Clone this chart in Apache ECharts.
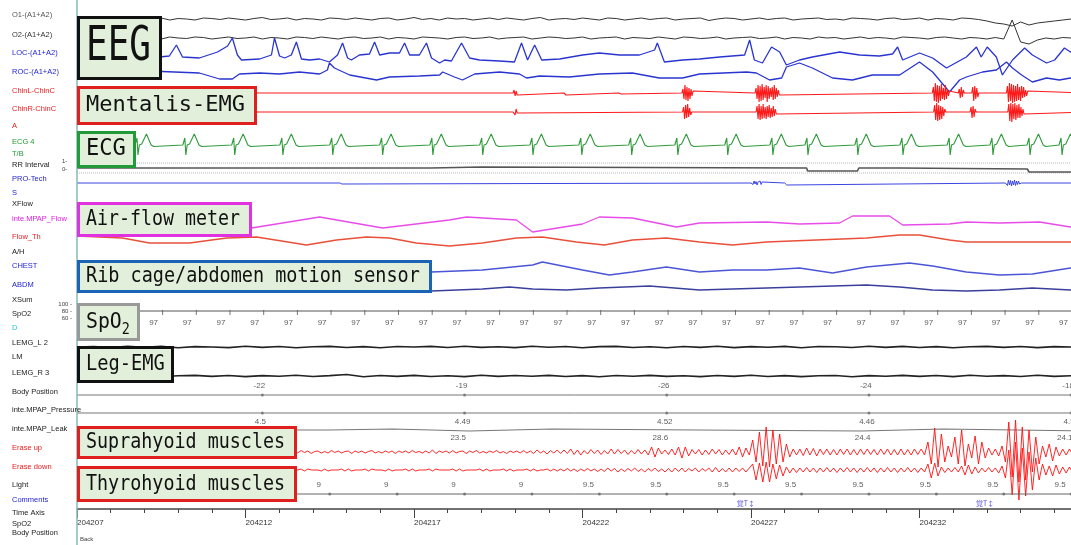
<!DOCTYPE html>
<html><head><meta charset="utf-8">
<script src="https://cdn.jsdelivr.net/npm/echarts@6/dist/echarts.min.js"></script>
<style>html,body{margin:0;padding:0;background:#fff}#c{width:1071px;height:545px}</style>
</head><body><div id="c"></div>
<script>
// ---------------- DATA (time in seconds from 20:42:07, amplitude in trace units, + = up) ----------------
const timeLabels = ['204207','204212','204217','204222','204227','204232'];

const channelNames = ['O1-(A1+A2)','O2-(A1+A2)','LOC-(A1+A2)','ROC-(A1+A2)','ChinL-ChinC','ChinR-ChinC','A','ECG 4','T/B','RR Interval','PRO-Tech','S','XFlow','inte.MPAP_Flow','Flow_Th','A/H','CHEST','ABDM','XSum','SpO2','D','LEMG_L 2','LM','LEMG_R 3','Body Position','inte.MPAP_Pressure','inte.MPAP_Leak','Erase up','Erase down','Light','Comments','Time Axis','SpO2','Body Position'];
const channelColors = ['#555','#333','#2323d8','#2323d8','#e82020','#e82020','#e82020','#1f9a2f','#1f9a2f','#222','#2323d8','#2323d8','#222','#e020e0','#e82020','#222','#2323d8','#2323d8','#222','#222','#20c8e0','#222','#222','#222','#222','#222','#222','#e82020','#e82020','#222','#2323d8','#222','#222','#222'];

const eegO1 = [
0,1,-0.5,0.5,1,-1,0,1.5,-0.5,0,
1,-1,0.5,0,-1,1,0.5,-0.5,1,0,
-1,0.5,1.5,-0.5,0,1,-1,0.5,0,-1,
1,0.5,-0.5,1,0,-1,0.5,1,-1,0,
1.5,-0.5,0.5,-1,1,0,0.5,-1,0,1,
-0.5,1,0,-1,0.5,1.5,-1,0,0.5,-0.5,
1,0,-1,1,0.5,-1,0,1,-0.5,0.5,
1,-1,0,0.5,1,-1.5,0,1,0.5,-1,
0,1,-0.5,0.5,1,-1,0,0.5,1,-0.5,
0,-1,1,0.5,0,-1,0.5,1,-0.5,0,
1,-1,0.5,0,-1,1,0.5,-0.5,-2,-4,
-5,-7,-3,-6,-4,-3,-2,-1,0,0.5];
const eegO2 = [
0.5,-1,0,1,-0.5,0.5,1,-1,0,0.5,
-1,1,0,-0.5,1,0.5,-1,0,1,-0.5,
0,1,-1,0.5,0,-1,1,0.5,-0.5,1,
0,-1,0.5,1,-0.5,0,1,-1,0.5,0,
-1,1,0.5,0,-1,0.5,1,-0.5,0,1,
-1,0,0.5,1,-1,0,1,0.5,-0.5,0,
1,-1,0,0.5,1,-1,0.5,0,-0.5,1,
0,-1,1,0.5,-0.5,0,1,-1,0,0.5,
1,-0.5,0,1,-1,0.5,0,-1,1,0,
0.5,-1,0,1,-0.5,0.5,0,-1,1,0.5,
0,-1,0.5,1,0,-1,0.5,0,-1,0.5,
-1,18,-4,-6,-2,0,-1,0.5,0,0];
const eogLOC = [[0,1],[2.15,0],[2.74,2],[2.95,13],[3.13,1],[3.63,0],[4.17,6],[4.47,12],[4.61,20],[4.76,3],[4.88,-2],[5.42,-1],[5.77,3],[5.86,20],[6.01,2],[6.16,0],[6.36,3],[6.51,16],[6.66,-1],[6.90,-2],[7.20,-1],[7.49,-4],[7.73,3],[7.88,15],[8.03,0],[8.14,-2],[8.38,3],[8.68,4],[8.83,16],[8.98,3],[9.27,5],[9.57,5],[9.72,15],[9.87,3],[10.16,3],[10.37,15],[10.52,0],[10.76,-5],[10.91,-2],[11.11,-3],[11.41,15],[11.65,0],[11.94,-2],[12.54,-3],[12.98,-4],[13.19,15],[13.37,-2],[13.58,13],[13.79,-2],[14.32,-1],[15.0,3],[15.5,5],[16.10,3],[16.69,3],[17.14,8],[17.22,15],[17.43,-4],[17.97,-2],[18.47,-1],[19.07,1],[19.81,3],[19.96,18],[20.10,-2],[20.34,-5],[20.61,11],[20.85,6],[21.05,-7],[21.44,-2],[21.82,1],[22.63,6],[23.22,3],[23.81,2],[24.20,4],[24.35,11],[24.50,-2],[25.0,5],[25.39,0],[25.80,-10],[26.39,1],[26.69,11],[26.83,1],[27.01,11],[27.28,1],[27.46,-17],[27.76,-2],[28.12,10],[28.35,3],[28.77,-5],[29.01,-2],[29.30,10],[29.48,6],[30,6]];
const eogROC = [[0,1],[2.15,2],[3.63,0],[4.23,-6],[4.61,-6],[4.82,-1],[5.42,0],[6.01,-1],[6.60,1],[7.20,-1],[7.43,3],[7.49,10],[7.64,5],[8.09,-2],[8.89,-7],[9.27,-4],[10.16,-3],[10.76,-2],[10.85,1],[11.20,-4],[11.44,-7],[11.80,-1],[12.54,1],[13.13,-1],[13.34,-5],[13.73,-3],[14.61,-4],[15.5,-1],[16.48,0],[17.28,-5],[17.97,-5],[18.47,-1],[19.87,1],[20.16,0],[20.55,-7],[20.91,-5],[21.05,6],[21.44,10],[21.82,5],[22.42,-5],[23.01,-7],[23.60,-2],[24.41,-2],[25.0,11],[25.39,1],[25.89,-19],[26.19,-7],[26.39,-4],[26.87,1],[27.28,3],[27.58,11],[27.76,5],[28.03,-2],[28.35,-9],[28.77,-5],[29.15,-7],[29.48,-5],[30,-5]];
// EMG bursts: [start time, samples every 0.03 s]
const chinL = [[12.94,[0,3,-3,2,-2,0]],[14.45,[0,2,-2,0]],[16.08,[0,2,-1,0]],[17.95,[0,4,-6,8,-7,6,-8,5,-6,4,-3,2,0]],[20.12,[0,5,-6,8,-9,7,-8,9,-7,6,-5,8,-9,7,-6,5,-4,6,-7,8,-6,5,-4,3,-2,0]],[25.38,[0,6,-8,10,-9,8,-10,7,-8,9,-6,5,-7,8,-6,4,-3,2,0]],[26.15,[0,4,-5,6,-4,3,0]],[26.55,[0,6,-8,7,-6,5,-4,0]],[27.58,[0,7,-9,10,-8,9,-10,8,-9,7,-8,9,-7,6,-8,7,-5,6,-4,3,-3,2,0]]];
const chinR = [[12.94,[0,2,-3,3,-1,0]],[17.97,[0,5,-7,7,-6,8,-5,4,-3,0]],[20.15,[0,6,-7,8,-8,6,-7,8,-6,5,-7,6,-5,7,-6,4,-5,6,-4,3,-2,0]],[25.42,[0,7,-8,9,-9,7,-8,6,-7,5,-4,3,0]],[26.5,[0,5,-6,6,-5,3,0]],[27.62,[0,8,-9,9,-10,8,-7,9,-8,7,-6,8,-6,5,-4,3,-2,0]]];
const ecgBeats = [0.34,1.80,3.22,4.67,6.10,7.58,9.06,10.55,12.03,13.52,14.97,16.45,17.82,19.30,20.64,21.68,23.16,24.50,25.90,27.17,28.27,29.22];
const ecgShape = [[-0.08,0],[-0.02,7],[0.01,-10],[0.05,0],[0.12,1],[0.26,11],[0.40,0],[0.48,-1.5]];
const rrInterval = [[0,0],[10.5,0],[10.55,1],[12.0,1],[12.03,0],[21.65,0],[21.68,-3],[23.16,-3],[23.2,0],[24.41,0],[24.45,-1],[28.2,-1],[28.25,-4],[30,-4]];
const proTech = [[7.8,[0,1,-1,0]],[20.0,[0,1,-1.5,2,-1,1.5,-2,1,-1,2,-1.5,1,0]],[21.0,[0,2,-2,0]],[27.55,[0,2,-2.5,3,-2,2.5,-3,2,-2,3,-2.5,2,-1.5,2,-1,1,0]]];
const airFlow = [[0,1],[2.45,3],[3.63,-1],[5.18,-3],[7.20,8],[9.07,-3],[11.05,5],[11.56,8],[13.04,5],[13.52,-7],[15.0,1],[15.50,8],[16.48,7],[17.79,-2],[18.47,2],[20.46,3],[21.44,1],[22.63,2],[23.01,9],[24.11,9],[24.50,0],[25.89,1],[26.39,3],[27.37,2],[28.56,3],[29.48,-2],[30,-2]];
const flowTh = [[0,4],[1.35,2],[2.15,-3],[3.34,-3],[4.44,2],[5.33,3],[6.81,-5],[7.70,0],[8.59,3],[9.27,2],[10.07,-3],[11.05,-6],[12.03,-3],[13.04,2],[13.81,3],[14.82,-2],[15.65,-5],[16.48,0],[17.49,2],[18.47,-2],[19.45,-5],[20.46,-2],[21.94,0],[23.43,2],[24.41,5],[25.0,5],[25.89,0],[26.39,-2],[27.88,-2],[29.48,-2],[30,-2]];
const chest = [[0,0],[3.63,2],[6.60,-2],[10.52,-2],[12.03,0],[13.52,5],[13.81,8],[15.0,0],[15.80,-5],[16.48,-2],[17.49,3],[18.47,-2],[19.45,0],[20.46,0],[21.44,2],[22.42,-3],[23.43,3],[24.70,7],[25.39,4],[26.39,-2],[27.37,-5],[28.35,-4],[29.48,2],[30,2]];
const abdomen = [[0,0],[10.52,-3],[12.03,-1],[12.83,1],[13.52,-1],[14.52,-2],[15.5,0],[16.99,2],[18.47,-2],[19.45,-1],[20.46,0],[21.44,1],[23.43,3],[24.41,1],[25.39,-2],[26.39,-3],[27.37,-2],[28.35,0],[29.48,-2],[30,-2]];
const spo2Times = [2,3,4,5,6,7,8,9,10,11,12,13,14,15,16,17,18,19,20,21,22,23,24,25,26,27,28,29];
const spo2Vals = [97,97,97,97,97,97,97,97,97,97,97,97,97,97,97,97,97,97,97,97,97,97,97,97,97,97,97,97];
const legL = [0,0.5,-0.5,0.8,-0.3,0.6,-0.7,0.4,0,-0.6,0.7,-0.4,0.5,-0.8,0.3,0.6,-0.5,0.4,-0.7,0.5,0,0.6,-0.5,0.8,-0.4,0.3,-0.6,0.7,-0.3,0.5,-0.7,0.4,0.6,-0.5,0.3,-0.8,0.5,-0.4,0.7,-0.6,0.4,-0.3,0.6,-0.7,0.5,0.3,-0.5,0.8,-0.4,0.6,-0.5,0.4,-0.7,0.3,0.6,-0.4,0.5,-0.6,0.4,0,0.3];
const legR = [0.4,-0.5,0.6,-0.3,0.5,-0.7,0.3,0.6,-0.4,0.5,-0.6,0.4,-0.3,0.7,-0.5,0.4,1.5,-0.8,0.5,-0.4,0.6,-0.5,0.3,-0.6,0.7,-0.4,0.5,-0.3,0.6,-0.5,0.4,-0.7,0.5,-0.3,0.6,-0.4,0.3,-0.6,0.5,-0.4,0.7,-0.5,0.4,-0.6,0.3,0.5,-0.7,0.4,-0.3,0.6,-0.4,0.5,-0.6,0.7,-0.3,0.4,-0.5,0.8,-0.4,0.3,0];
const trendTimes = [5.5,11.5,17.5,23.5,29.5];
const bodyPosition = ['-22','-19','-26','-24','-18'];
const mpapPressure = ['4.5','4.49','4.52','4.46','4.5'];
const mpapLeak = ['23.1','23.5','28.6','24.4','24.1'];
const leakLevel = [[0,0],[7.5,0],[7.55,1],[9.36,1],[9.4,-1],[11.65,-1],[11.7,1],[14.1,1],[14.15,0],[18.4,0],[18.45,-1],[23.3,-1],[23.35,1],[25.7,1],[25.75,-1],[30,-1]];
// Erase up / Erase down (supra / thyrohyoid EMG), samples every 0.1 s from 6.45 s
const supraHyoid = [
1,-1,1.5,-0.5,1,-1.5,0.5,1,-1,0.5,
-1,1.5,-0.5,1,-1,0.5,1,-1.5,1,-0.5,
1,-1,0.5,1.5,-1,0.5,-1,1,-0.5,1,
-1.5,1,-0.5,1,-1,1.5,-0.5,0.5,-1,1,
-1,2,-1.5,1,-0.5,1,-1,1.5,-1,0.5,
1,-1.5,1,-0.5,1.5,-1,0.5,-1,1,-0.5,
1.5,-1,0.5,-1.5,1,-0.5,1,-1,1.5,-1,
1,-1.5,2,-1,1,-2,1.5,-1,2,-1.5,
2,-1.5,3,-2.5,2,-3,1.5,-2,2.5,-1.5,
2,-2.5,1.5,-2,3,-2,2.5,-1.5,2,-2.5,
1.5,-2,2.5,-2,2,-3,5,-5,4,-2,
2,-2.5,3,-3,5,-6,5,-4,2.5,-2,
2.5,-3,2,-2.5,3,-2,2.5,-3,2,-2.5,
3,-3,5,-5,4,-3,12,-10,20,-14,
25,-15,22,-12,18,-10,8,-5,3,-3,
3,-3.5,4,-3,3.5,-4,3,-2.5,3,-3,
2.5,-3,3,-2.5,3,-3,2.5,-3,3,-2.5,
3,-2.5,2.5,-3,3,-2.5,3,-3,2.5,-3,
3,-3,2.5,-3,3,-2.5,3,-3,10,-12,
24,-15,18,-10,6,-5,15,-12,22,-14,
8,-6,16,-12,10,-6,4,-3,3,-4,
6,-10,30,-25,32,-30,25,-28,22,-20,
15,-12,6,-5,8,-9,5,-4,3,-3,
3,-3,2,-2,2,-2,2,-2,2,-2];
const thyroHyoid = [
0,0,1,-1,1,0,0,0,-1,1,
-1,0,0,0,1,-1,1,-1,0,0,
0,1,-1,1,0,0,0,-1,1,-1,
0,0,0,1,-1,1,-1,0,0,0,
1,-1,1,0,0,0,0,1,-1,1,
-1,0,0,0,0,1,-1,1,-1,0,
0,0,1,-1,1,-1,0,0,0,1,
-1,1,-1,0,0,1,-1,1,-1,1,
-1,1.5,-1,1,-1.5,1,-1,1.5,-1,1,
-1.5,1,-1.5,2,-1,1.5,-2,1,-1.5,1.5,
-1,2,-1.5,1,-2,1.5,-1,2,-1.5,1,
-2,1.5,-2,2,-1.5,2,-2,1.5,-1,2,
-2,1.5,-1,2,-2,2.5,-2,1.5,-2,2,
-2,2,-1.5,2,-2,2,6,-10,7,-12,
8,-12,6,-9,5,-6,3,-3,2,-2.5,
2,-2,2.5,-2,2,-2.5,2,-2,2.5,-2,
2,-2.5,2,-2,2.5,-2,2,-2.5,2,-2,
2.5,-2,2,-2.5,2,-2,2.5,-2,2,-2.5,
2,-2,2.5,-2,2,-2.5,2,-2,6,-8,
7,-6,3,-2.5,2,-2,2.5,-2,4,-5,
5,-4,3,-3,2,-2,2.5,-2,2,-3,
4,-8,20,-25,28,-30,22,-26,18,-20,
12,-10,6,-5,4,-6,5,-4,3,-3,
3,-3,2,-2,2,-2,2,-2,2,-2];
const lightTimes = [1.5,3.5,5.5,7.5,9.5,11.5,13.5,15.5,17.5,19.5,21.5,23.5,25.5,27.5,29.5];
const lightVals = ['9','9','9','9','9','9','9','9.5','9.5','9.5','9.5','9.5','9.5','9.5','9.5'];
const commentTimes = [19.85, 26.95];
const commentTexts = ['覚T↕','覚T↕'];

// ---------------- LAYOUT ----------------
const labelY = [15,35,53,72,91,109,126,142,154,165,179,193,204,219,237,252,266,285,300,314,328,343,357,373,392,410,429,448,467,485,500,513,524,533];
const B = {o1:19,o2:38,loc:58,roc:73,chinL:93,chinR:112,ecg:145,rrTop:163,rr:168,rrBot:173,pro:183,flow:225,flowTh:240,chest:270,abdm:288,spo2:311,legL:347,legR:376,body:395,press:413,leak:430,supra:452,thyro:470,light:494,comment:503};

const shiftPts = (base, pts) => pts.map(p => [p[0], base - p[1]]);
const uniform = (base, t0, dt, vals) => vals.map((v, i) => [t0 + i * dt, base - v]);
const bursts = (base, segs, dt) => { const out = [[0, base]]; segs.forEach(s => s[1].forEach((v, i) => out.push([s[0] + i * dt, base - v]))); out.push([30, base]); return out; };
const flat = base => [[0, base], [30, base]];
const ecgData = [[0, B.ecg]];
ecgBeats.forEach(bt => ecgShape.forEach(p => ecgData.push([bt + p[0], B.ecg - p[1]])));
ecgData.push([30, B.ecg]);

function L(data, color, width, type) {
  return {type:'line', data, symbol:'none', showSymbol:false, silent:true, animation:false, clip:true,
    lineStyle:{color, width: width || 1, type: type || 'solid'}};
}
const lblFont = {fontSize:8, color:'#333', fontFamily:'Liberation Sans'};
const series = [
  L(uniform(B.o1, 0, 0.25, eegO1), '#333', 1),
  L(uniform(B.o2, 0, 0.25, eegO2), '#333', 1),
  L(shiftPts(B.loc, eogLOC), '#2a35d0', 1.3),
  L(shiftPts(B.roc, eogROC), '#2a35d0', 1.3),
  L(bursts(B.chinL, chinL, 0.03), '#ff1a1a', 1.1),
  L(bursts(B.chinR, chinR, 0.03), '#ff1a1a', 1.1),
  L(ecgData, '#2e9b3a', 1.1),
  L(flat(B.rrTop), '#bbb', 1, 'dotted'),
  L(flat(B.rrBot), '#bbb', 1, 'dotted'),
  L(shiftPts(B.rr, rrInterval), '#555', 1.6),
  L(bursts(B.pro, proTech, 0.03), '#3a45e0', 1),
  L(shiftPts(B.flow, airFlow), '#e84ce8', 1.3),
  L(shiftPts(B.flowTh, flowTh), '#e8503a', 1.3),
  L(shiftPts(B.chest, chest), '#4b55d6', 1.5),
  L(shiftPts(B.abdm, abdomen), '#3b3f9c', 1.5),
  L(flat(B.spo2), '#555', 1),
  L(uniform(B.legL, 0, 0.5, legL), '#222', 1.6),
  L(uniform(B.legR, 0, 0.5, legR), '#222', 1.6),
  L(flat(B.body), '#777', 1),
  L(flat(B.press), '#777', 1),
  L(shiftPts(B.leak, leakLevel), '#777', 1.2),
  L(uniform(B.supra, 6.45, 0.1, supraHyoid), '#ff1010', 0.9),
  L(uniform(B.thyro, 6.45, 0.1, thyroHyoid), '#ff1010', 0.9),
  L(flat(B.light), '#666', 1),
  {type:'scatter', silent:true, animation:false, symbol:'rect', symbolSize:[1,5], itemStyle:{color:'#555'},
   data: spo2Times.map((t, i) => ({value:[t + 0.54, B.spo2 + 1.5], name:String(spo2Vals[i])})),
   label:{show:true, position:'bottom', distance:4, offset:[-9,0], formatter:'{b}', ...lblFont}},
  {type:'scatter', silent:true, animation:false, symbol:'circle', symbolSize:3, itemStyle:{color:'#666'},
   data: trendTimes.map((t, i) => ({value:[t, B.body], name:bodyPosition[i]})),
   label:{show:true, position:'top', distance:4, offset:[-3,0], formatter:'{b}', ...lblFont}},
  {type:'scatter', silent:true, animation:false, symbol:'circle', symbolSize:3, itemStyle:{color:'#666'},
   data: trendTimes.map((t, i) => ({value:[t, B.press], name:mpapPressure[i]})),
   label:{show:true, position:'bottom', distance:3, offset:[-2,0], formatter:'{b}', ...lblFont}},
  {type:'scatter', silent:true, animation:false, symbol:'circle', symbolSize:0,
   data: trendTimes.map((t, i) => ({value:[t - 0.1, B.leak], name:mpapLeak[i]})),
   label:{show:true, position:'bottom', distance:4, offset:[-3,0], formatter:'{b}', ...lblFont}},
  {type:'scatter', silent:true, animation:false, symbol:'circle', symbolSize:3, itemStyle:{color:'#666'},
   data: lightTimes.map((t, i) => ({value:[t, B.light], name:lightVals[i]})),
   label:{show:true, position:'top', distance:4, offset:[-11,0], formatter:'{b}', ...lblFont}},
  {type:'scatter', silent:true, animation:false, symbolSize:0,
   data: commentTimes.map((t, i) => ({value:[t, B.comment], name:commentTexts[i]})),
   label:{show:true, position:'inside', formatter:'{b}', fontSize:7, color:'#2323d8', fontFamily:'Noto Sans CJK JP'}}
];

// label boxes
const boxes = [
 {text:'EEG', x:77, y:16, w:85, h:64, color:'#111', fs:48, sx:0.75},
 {text:'Mentalis-EMG', x:77, y:86, w:180, h:39, color:'#e0201e', fs:22, sx:1.0},
 {text:'ECG', x:77, y:131, w:59, h:37, color:'#229a3a', fs:23, sx:0.96},
 {text:'Air-flow meter', x:77, y:202, w:175, h:35, color:'#e032e0', fs:22, sx:0.83},
 {text:'Rib cage/abdomen motion sensor', x:77, y:260, w:355, h:33, color:'#1b63b5', fs:22, sx:0.84},
 {text:'SpO', x:77, y:303, w:63, h:38, color:'#999', fs:22, sx:0.9, sub:'2'},
 {text:'Leg-EMG', x:77, y:346, w:97, h:37, color:'#111', fs:22, sx:0.85},
 {text:'Suprahyoid muscles', x:77, y:426, w:220, h:33, color:'#e0201e', fs:22, sx:0.835},
 {text:'Thyrohyoid muscles', x:77, y:466, w:220, h:36, color:'#e0201e', fs:22, sx:0.835}
];
const graphics = [];
graphics.push({type:'line', z:50, shape:{x1:77, y1:0, x2:77, y2:545}, style:{stroke:'#86b9b9', lineWidth:1.5}});
channelNames.forEach((n, i) => graphics.push({type:'text', z:50, x:12, y:labelY[i],
  style:{text:n, fill:channelColors[i], font:'7.5px "Liberation Sans"', textVerticalAlign:'middle', verticalAlign:'middle'}}));
[['100 -',304],['80 -',311],['60 -',318]].forEach(s => graphics.push({type:'text', z:50, x:72, y:s[1],
  style:{text:s[0], fill:'#444', font:'6px "Liberation Sans"', textAlign:'right', align:'right', textVerticalAlign:'middle', verticalAlign:'middle'}}));
[['1-',161],['0-',169]].forEach(s => graphics.push({type:'text', z:50, x:62, y:s[1],
  style:{text:s[0], fill:'#444', font:'6px "Liberation Sans"', textVerticalAlign:'middle', verticalAlign:'middle'}}));
graphics.push({type:'text', z:50, x:80, y:539, style:{text:'Back', fill:'#444', font:'6px "Liberation Sans"', textVerticalAlign:'middle', verticalAlign:'middle'}});
boxes.forEach(b => {
  graphics.push({type:'rect', z:100, shape:{x:b.x + 1.5, y:b.y + 1.5, width:b.w - 3, height:b.h - 3},
    style:{fill:'#e2efda', stroke:b.color, lineWidth:3}});
  const cy = b.y + b.h / 2;
  graphics.push({type:'text', z:101, x:b.x + 9, y:cy, scaleX:b.sx,
    style:{text:b.text, fill:'#111', font:b.fs + 'px "DejaVu Sans Mono"', textVerticalAlign:'middle', verticalAlign:'middle'}});
  if (b.sub) {
    graphics.push({type:'text', z:101, x:b.x + 9 + 3 * 0.602 * b.fs * b.sx, y:cy + 8, scaleX:b.sx,
      style:{text:b.sub, fill:'#111', font:'15px "DejaVu Sans Mono"', textVerticalAlign:'middle', verticalAlign:'middle'}});
  }
});

const chart = echarts.init(document.getElementById('c'), null, {renderer:'canvas'});
chart.setOption({
  animation:false,
  backgroundColor:'#fff',
  grid:{left:77, width:1011, top:0, height:509, containLabel:false, outerBoundsMode:'none'},
  xAxis:{type:'value', min:0, max:30, interval:5,
    axisLine:{show:true, onZero:false, lineStyle:{color:'#444', width:1.5}},
    axisTick:{show:true, length:9, lineStyle:{color:'#444'}},
    minorTick:{show:true, splitNumber:5, length:4, lineStyle:{color:'#444'}},
    splitLine:{show:false},
    axisLabel:{show:true, align:'left', margin:10, fontSize:8, color:'#333', fontFamily:'Liberation Sans',
      formatter: v => (v % 5 === 0 && timeLabels[v / 5]) ? timeLabels[v / 5] : ''}},
  yAxis:{type:'value', min:0, max:509, inverse:true, show:false},
  series,
  graphic:{elements:graphics}
});
</script></body></html>
